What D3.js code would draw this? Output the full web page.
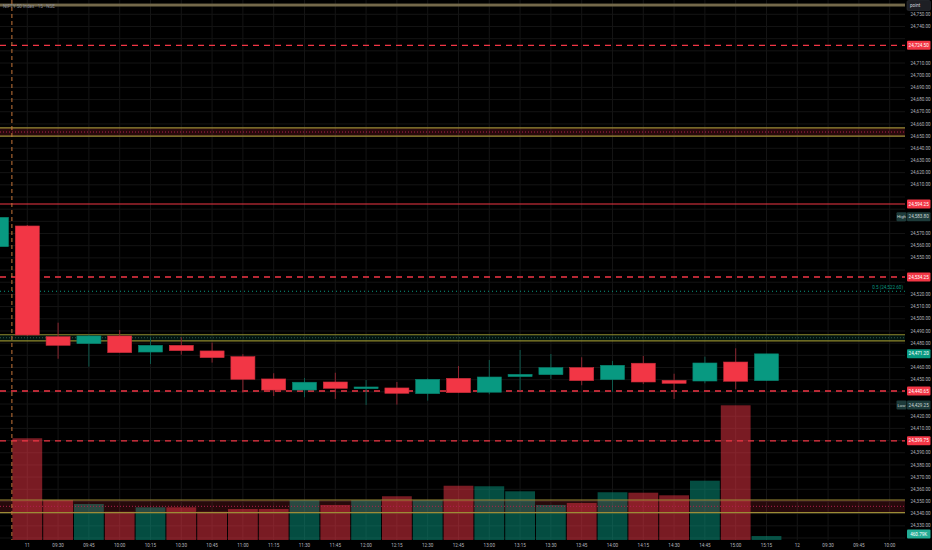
<!DOCTYPE html>
<html>
<head>
<script src="https://cdnjs.cloudflare.com/ajax/libs/d3/7.8.5/d3.min.js"></script>
<style>
  html, body { margin: 0; padding: 0; background: #000; }
  svg { display: block; }
  text { font-family: Roboto, "Liberation Sans", sans-serif; }
</style>
</head>
<body>
<div id="chart"></div>
<script>
const width = 932, height = 550;
const plotRight = 905;

// slot labels (one 15-minute bar per slot)
const slotTimes = ["15:15",
  "09:15","09:30","09:45","10:00","10:15","10:30","10:45","11:00","11:15","11:30","11:45",
  "12:00","12:15","12:30","12:45","13:00","13:15","13:30","13:45","14:00","14:15","14:30",
  "14:45","15:00","15:15",
  "09:15","09:30","09:45","10:00"];
const dayStarts = { 1: "11", 26: "12" };

// OHLC for slots 0..25
const opens  = [24559.2,24576.2,24485.3,24479.6,24485.9,24472.7,24478.2,24473.6,24468.9,24450.6,24441.5,24448.1,24442.6,24443.2,24438.5,24451.1,24439.7,24452.5,24454.1,24459.9,24450.0,24463.5,24449.5,24448.9,24464.5,24449.2];
const highs  = [24583.8,24577.0,24496.8,24487.0,24490.8,24484.8,24484.8,24480.4,24470.9,24455.3,24451.4,24455.7,24449.8,24448.1,24451.0,24461.2,24466.2,24474.4,24471.1,24468.4,24465.4,24469.5,24454.9,24468.9,24475.8,24471.2];
const lows   = [24558.5,24486.0,24467.2,24460.7,24472.0,24462.9,24470.5,24464.0,24439.3,24436.6,24435.6,24434.2,24429.25,24429.5,24432.8,24439.0,24438.0,24441.0,24450.6,24445.4,24440.1,24446.5,24434.2,24447.0,24442.1,24449.0];
const closes = [24583.3,24486.7,24478.2,24485.9,24472.2,24478.2,24473.8,24468.1,24450.3,24441.5,24447.9,24442.9,24444.0,24438.8,24450.3,24439.3,24452.2,24454.4,24459.9,24449.2,24461.8,24448.1,24447.0,24463.7,24448.7,24471.2];
// volume in millions, slots 1..25 (slot 0 not shown)
const volumes = [null,11.7,4.6,4.14,3.25,3.76,3.76,3.25,3.57,3.57,4.6,4.03,4.6,5.03,4.6,6.24,6.18,5.6,4.03,4.26,5.49,5.44,5.14,6.82,15.49,0.46];

// drawn levels
const topLevel = [24756.4, 24758.8];
const redDashedLevels = [24724.50, 24534.25, 24440.65, 24399.75];
const redSolidLevels = [24594.25];
const redZones = [[24650.0, 24656.7], [24340.8, 24351.2]];
const greenZones = [[24481.9, 24486.9]];
const fibLevel = 24522.60;
const highValue = 24583.80, lowValue = 24429.25;
const lastVolumeLabel = "460.79K";

const UP = "#089981", DOWN = "#f23645";
const fmt = d3.format(",.2f");

const svg = d3.select("#chart").append("svg")
  .attr("width", width).attr("height", height);
svg.append("rect").attr("width", width).attr("height", height).attr("fill", "#000");

const x = d3.scaleBand().domain(d3.range(slotTimes.length)).range([-18.9, 905.1]).padding(0);
const y = d3.scaleLinear().domain([24320, 24750]).range([538, 14.3]);
const yVol = d3.scaleLinear().domain([0, 15.49]).range([540, 405.3]);
const cx = i => x(i) + x.bandwidth() / 2;

svg.append("clipPath").attr("id", "plot")
  .append("rect").attr("x", 0).attr("y", 0).attr("width", plotRight).attr("height", 540);
const plot = svg.append("g").attr("clip-path", "url(#plot)");

// grid
const priceTicks = d3.range(24320, 24751, 10);
plot.selectAll(".hgrid").data(priceTicks).join("line")
  .attr("x1", 0).attr("x2", plotRight)
  .attr("y1", d => y(d)).attr("y2", d => y(d))
  .attr("stroke", "#141414").attr("stroke-width", 1);
const tickSlots = d3.range(1, slotTimes.length);
plot.selectAll(".vgrid").data(tickSlots).join("line")
  .attr("x1", d => cx(d)).attr("x2", d => cx(d))
  .attr("y1", 0).attr("y2", 540)
  .attr("stroke", "#141414").attr("stroke-width", 1);

// volume
const volIdx = d3.range(volumes.length).filter(i => volumes[i] != null);
plot.selectAll(".vol").data(volIdx).join("rect")
  .attr("x", i => x(i) + 0.5)
  .attr("width", x.bandwidth() - 1)
  .attr("y", i => yVol(volumes[i]))
  .attr("height", i => yVol(0) - yVol(volumes[i]))
  .attr("fill", i => closes[i] >= opens[i] ? UP : DOWN)
  .attr("fill-opacity", 0.5);

// zones
function zone(lo, hi, fill, edge, mid) {
  plot.append("rect").attr("x", 0).attr("width", plotRight)
    .attr("y", y(hi)).attr("height", y(lo) - y(hi))
    .attr("fill", fill);
  [lo, hi].forEach(v => plot.append("line")
    .attr("x1", 0).attr("x2", plotRight).attr("y1", y(v)).attr("y2", y(v))
    .attr("stroke", edge).attr("stroke-width", 1.2));
  plot.append("line").attr("x1", 0).attr("x2", plotRight)
    .attr("y1", y((lo + hi) / 2)).attr("y2", y((lo + hi) / 2))
    .attr("stroke", mid).attr("stroke-width", 1).attr("stroke-dasharray", "1,2");
}
redZones.forEach(z => zone(z[0], z[1], "rgba(242,54,69,0.16)", "#9c8c36", "#b0204f"));
greenZones.forEach(z => zone(z[0], z[1], "rgba(8,153,129,0.12)", "#8f8a2c", "#2f5a4a"));

// top band
plot.append("rect").attr("x", 0).attr("width", plotRight)
  .attr("y", y(topLevel[1])).attr("height", y(topLevel[0]) - y(topLevel[1]))
  .attr("fill", "#74694a");

// red levels
plot.selectAll(".rd").data(redDashedLevels).join("line")
  .attr("x1", 0).attr("x2", plotRight).attr("y1", d => y(d)).attr("y2", d => y(d))
  .attr("stroke", DOWN).attr("stroke-width", 1.4).attr("stroke-dasharray", "6,5");
plot.selectAll(".rs").data(redSolidLevels).join("line")
  .attr("x1", 0).attr("x2", plotRight).attr("y1", d => y(d)).attr("y2", d => y(d))
  .attr("stroke", DOWN).attr("stroke-width", 1.2);

// fib 0.5
plot.append("line").attr("x1", 0).attr("x2", plotRight)
  .attr("y1", y(fibLevel)).attr("y2", y(fibLevel))
  .attr("stroke", UP).attr("stroke-width", 1).attr("stroke-dasharray", "1,3");
plot.append("text").attr("x", plotRight - 2).attr("y", y(fibLevel) - 2.5)
  .attr("text-anchor", "end").attr("font-size", 4.6).attr("fill", UP)
  .text("0.5 (" + fmt(fibLevel) + ")");

// session break
plot.append("line").attr("x1", x(1)).attr("x2", x(1)).attr("y1", 0).attr("y2", 540)
  .attr("stroke", "#c8773a").attr("stroke-width", 1).attr("stroke-dasharray", "4,3");

// candles
const candleIdx = d3.range(opens.length);
const bodyW = x.bandwidth() * 0.78;
plot.selectAll(".wick").data(candleIdx).join("line")
  .attr("x1", cx).attr("x2", cx)
  .attr("y1", i => y(highs[i])).attr("y2", i => y(lows[i]))
  .attr("stroke", i => closes[i] >= opens[i] ? "#0e5a4d" : "#8a2530")
  .attr("stroke-width", 1);
plot.selectAll(".body").data(candleIdx).join("rect")
  .attr("x", i => cx(i) - bodyW / 2).attr("width", bodyW)
  .attr("y", i => y(Math.max(opens[i], closes[i])))
  .attr("height", i => Math.max(1.5, Math.abs(y(opens[i]) - y(closes[i]))))
  .attr("fill", i => closes[i] >= opens[i] ? UP : DOWN)
  .attr("stroke", i => closes[i] >= opens[i] ? "#07806c" : "#c92c3a")
  .attr("stroke-width", 0.6);

// title
svg.append("text").attr("x", 3).attr("y", 7.5).attr("font-size", 4.6).attr("fill", "#8a8d96")
  .text("NIFTY 50 Index · 15 · NSE");

// right-scale labels (collected first so that colliding ticks are hidden)
const last = closes.length - 1;
const labels = [];
redDashedLevels.concat(redSolidLevels).forEach(v => labels.push({ y: y(v), text: fmt(v), bg: DOWN, fg: "#fff" }));
labels.push({ y: y(highValue), text: fmt(highValue), bg: "#1d3b3a", fg: "#c9d3d2", tag: "High" });
labels.push({ y: y(lowValue), text: fmt(lowValue), bg: "#1d3b3a", fg: "#c9d3d2", tag: "Low" });
labels.push({ y: y(closes[last]), text: fmt(closes[last]), bg: UP, fg: "#fff" });
labels.push({ y: yVol(volumes[last]) - 2, text: lastVolumeLabel, bg: "#22ab94", fg: "#fff" });

// price axis
const shownTicks = priceTicks.filter(d => labels.every(l => Math.abs(l.y - y(d)) > 8));
svg.selectAll(".ptick").data(shownTicks).join("text")
  .attr("x", 910.5).attr("y", d => y(d) + 1.6)
  .attr("font-size", 4.6).attr("fill", "#b2b5be")
  .text(d => fmt(d));

// time axis
svg.selectAll(".ttick").data(tickSlots).join("text")
  .attr("x", cx).attr("y", 546.5).attr("text-anchor", "middle")
  .attr("font-size", 4.6).attr("fill", "#b2b5be")
  .text(i => dayStarts[i] || slotTimes[i]);

labels.forEach(l => {
  if (l.tag) {
    svg.append("rect").attr("x", 896.5).attr("y", l.y - 4.5).attr("width", 10).attr("height", 9)
      .attr("rx", 1).attr("fill", l.bg);
    svg.append("text").attr("x", 901.5).attr("y", l.y + 1.6).attr("text-anchor", "middle")
      .attr("font-size", 4.3).attr("fill", l.fg).text(l.tag);
  }
  svg.append("rect").attr("x", 907).attr("y", l.y - 4.5).attr("width", 23.5).attr("height", 9)
    .attr("rx", 1).attr("fill", l.bg);
  svg.append("text").attr("x", 918.7).attr("y", l.y + 1.6).attr("text-anchor", "middle")
    .attr("font-size", 4.6).attr("fill", l.fg).text(l.text);
});

// unit box
svg.append("rect").attr("x", 907).attr("y", 0.5).attr("width", 23.5).attr("height", 10)
  .attr("rx", 1.5).attr("fill", "#1e1f24").attr("stroke", "#2e3038").attr("stroke-width", 0.6);
svg.append("text").attr("x", 910).attr("y", 7).attr("font-size", 4.6).attr("fill", "#d1d4dc").text("point");
</script>
</body>
</html>
